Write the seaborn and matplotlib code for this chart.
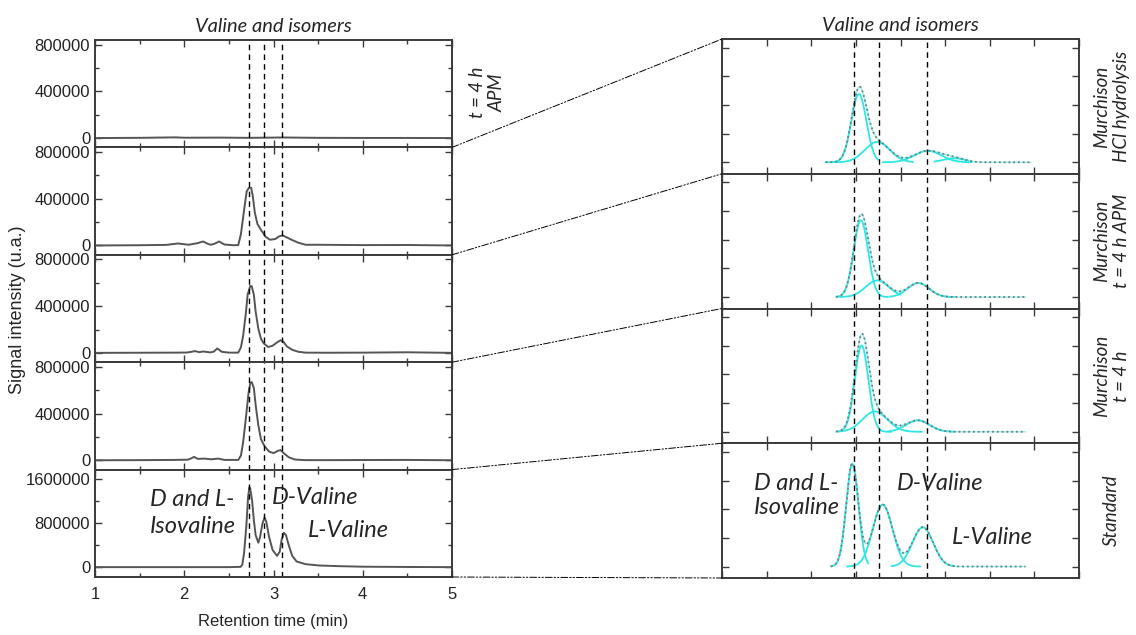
import numpy as np
import matplotlib
matplotlib.use("Agg")
import matplotlib.pyplot as plt
from matplotlib.patches import ConnectionPatch
from matplotlib.ticker import MultipleLocator, NullFormatter
import seaborn as sns

# ---------------- chromatograms (retention time in min, signal in u.a.) ----------------
t_apm = [1.0, 1.5, 1.9, 2.0, 2.4, 2.7, 3.0, 3.1, 3.5, 4.0, 4.5, 5.0]
s_apm = [0, 2000, 6000, 3000, 4000, 2000, 4000, 5000, 2000, 1000, 1000, 0]

t_hcl = [1.0, 1.5, 1.80, 1.93, 2.05, 2.15, 2.21, 2.27, 2.30, 2.34, 2.39, 2.45, 2.55,
         2.605, 2.635, 2.67, 2.70, 2.726, 2.75, 2.77, 2.79, 2.82, 2.86, 2.88, 2.91,
         2.96, 3.02, 3.06, 3.10, 3.15, 3.21, 3.28, 3.36, 3.51, 4.0, 4.5, 5.0]
s_hcl = [0, 2000, 5000, 17000, 6000, 20000, 34000, 12000, 6000, 15000, 34000, 8000, 2000,
         3000, 98000, 300000, 465000, 494000, 494000, 413000, 284000, 184000, 132000, 112000, 75000,
         49000, 55000, 77000, 86000, 69000, 46000, 23000, 6000, 6000, 3000, 4000, 0]

t_m4apm = [1.0, 1.5, 1.9, 2.03, 2.08, 2.12, 2.17, 2.21, 2.29, 2.33, 2.37, 2.42, 2.50,
           2.605, 2.635, 2.66, 2.69, 2.71, 2.74, 2.756, 2.78, 2.80, 2.83, 2.86, 2.89,
           2.94, 2.99, 3.04, 3.08, 3.11, 3.15, 3.21, 3.28, 3.36, 3.6, 4.0, 4.5, 5.0]
s_m4apm = [0, 1000, 2000, 3000, 9000, 15000, 6000, 12000, 4000, 10000, 38000, 9000, 2000,
           2000, 47000, 149000, 338000, 498000, 574000, 571000, 498000, 353000, 207000, 120000, 82000,
           50000, 61000, 90000, 108000, 96000, 55000, 26000, 9000, 2000, 1000, 2000, 5000, 0]

t_m4 = [1.0, 1.5, 1.9, 2.04, 2.08, 2.11, 2.15, 2.23, 2.30, 2.38, 2.45, 2.605, 2.635,
        2.66, 2.69, 2.72, 2.74, 2.756, 2.78, 2.80, 2.83, 2.86, 2.90, 2.95, 3.00,
        3.05, 3.08, 3.11, 3.17, 3.24, 3.36, 3.6, 4.0, 4.5, 5.0]
s_m4 = [0, 1000, 3000, 5000, 17000, 29000, 12000, 14000, 8000, 14000, 3000, 3000, 40000,
        156000, 358000, 575000, 661000, 670000, 618000, 474000, 300000, 179000, 121000, 75000, 61000,
        81000, 87000, 64000, 26000, 6000, 1000, 1000, 2000, 3000, 0]

t_std = [1.0, 1.5, 2.0, 2.5, 2.63, 2.65, 2.67, 2.695, 2.715, 2.73, 2.74, 2.76, 2.78,
         2.80, 2.83, 2.85, 2.876, 2.90, 2.92, 2.95, 2.99, 3.04, 3.07, 3.09, 3.117,
         3.14, 3.17, 3.21, 3.26, 3.36, 3.51, 3.73, 4.0, 4.5, 5.0]
s_std = [0, 0, 0, 0, 5000, 42000, 253000, 735000, 1277000, 1458000, 1428000, 1217000, 855000,
         584000, 446000, 554000, 795000, 904000, 825000, 554000, 313000, 205000, 283000, 494000, 627000,
         584000, 404000, 205000, 102000, 54000, 30000, 18000, 8000, 3000, 0]

peak_marks_left = [2.73, 2.89, 3.10]
left_ylims = [(-80000, 840000)] * 4 + [(-180000, 1780000)]
left_major = [400000] * 4 + [800000]
left_minor = [200000] * 4 + [400000]

# ---------------- Gaussian deconvolution of the peaks ----------------
fit_labels = ["Murchison\nHCl hydrolysis", "Murchison\nt = 4 h APM", "Murchison\nt = 4 h", "Standard"]
fit_centers = [[2.767, 2.870, 3.153, 3.30], [2.778, 2.870, 3.100], [2.782, 2.857, 3.097], [2.730, 2.900, 3.125]]
fit_heights = [[2.38, 0.71, 0.40, 0.14], [2.68, 0.58, 0.49], [3.01, 0.71, 0.40], [3.58, 2.16, 1.37]]
fit_sigmas = [[0.042, 0.070, 0.075, 0.060], [0.040, 0.065, 0.060], [0.038, 0.070, 0.065], [0.034, 0.055, 0.058]]
fit_starts = [[2.58, 2.63, 2.90, 3.19], [2.64, 2.66, 2.94], [2.64, 2.66, 2.93], [2.61, 2.70, 2.95]]
fit_ends = [[2.875, 3.07, 3.40, 3.38], [2.93, 3.00, 3.30], [2.95, 3.12, 3.30], [2.82, 3.11, 3.30]]
fit_span = [(2.58, 3.73), (2.64, 3.70), (2.64, 3.70), (2.61, 3.70)]
peak_marks_right = [2.74, 2.88, 3.15]

# ---------------- figure ----------------
sns.set_theme(style="ticks")
plt.rcParams["font.family"] = ["Liberation Sans", "DejaVu Sans"]
ITAL = dict(family=["Lato", "DejaVu Sans"], style="italic")
EDGE = "#3a3a3a"
CYAN = "#2ee6e6"

W, H = 1136, 635
fig = plt.figure(figsize=(W / 100, H / 100), dpi=100)


def box(x0, top, w, h):
    return [x0 / W, 1 - (top + h) / H, w / W, h / H]


def style_axes(ax):
    for sp in ax.spines.values():
        sp.set_color(EDGE)
        sp.set_linewidth(1.4)
    ax.tick_params(which="both", direction="in", top=True, right=True,
                   color=EDGE, width=1.0, labelsize=12, labelcolor="#222222")
    ax.tick_params(which="major", length=5)
    ax.tick_params(which="minor", length=3)


left_h = 537 / 5
axL = [fig.add_axes(box(95, 40 + i * left_h, 357, left_h)) for i in range(5)]
traces = [(t_apm, s_apm), (t_hcl, s_hcl), (t_m4apm, s_m4apm), (t_m4, s_m4), (t_std, s_std)]

for i, (ax, (t, s)) in enumerate(zip(axL, traces)):
    sns.lineplot(x=t, y=s, ax=ax, color="#555555", linewidth=1.4)
    ax.set_xlim(1, 5)
    ax.set_ylim(*left_ylims[i])
    ax.xaxis.set_major_locator(MultipleLocator(1))
    ax.xaxis.set_minor_locator(MultipleLocator(0.5))
    ax.yaxis.set_major_locator(MultipleLocator(left_major[i]))
    ax.yaxis.set_minor_locator(MultipleLocator(left_minor[i]))
    ax.yaxis.set_major_formatter(matplotlib.ticker.FormatStrFormatter("%d"))
    style_axes(ax)
    for xm in peak_marks_left:
        ax.axvline(xm, color="black", linestyle=(0, (4, 3)), linewidth=1.0)
    if i < 4:
        ax.tick_params(labelbottom=False)

axL[0].set_title("Valine and isomers", fontsize=14.5, pad=6, **ITAL)
axL[0].text(1.1, 0.51, "t = 4 h\nAPM", transform=axL[0].transAxes, rotation=90,
            ha="center", va="center", multialignment="center", fontsize=13.5, **ITAL)
axL[4].set_xlabel("Retention time (min)", fontsize=12, labelpad=9)
axL[4].tick_params(axis="x", pad=7)
axL[4].text(1.62, 990000, "D and L-\nIsovaline", ha="left", va="center", fontsize=17,
            linespacing=1.35, **ITAL)
axL[4].text(2.98, 1270000, "D-Valine", ha="left", va="center", fontsize=17, **ITAL)
axL[4].text(3.39, 670000, "L-Valine", ha="left", va="center", fontsize=17, **ITAL)
fig.text(18 / W, 1 - 310 / H, "Signal intensity (u.a.)", rotation=90, ha="center",
         va="center", fontsize=13)

right_h = 539 / 4
axR = [fig.add_axes(box(722, 39 + i * right_h, 357, right_h)) for i in range(4)]
for i, ax in enumerate(axR):
    lo, hi = fit_span[i]
    xs = np.linspace(lo, hi, 400)
    total = np.zeros_like(xs)
    for c, a, sg, x0, x1 in zip(fit_centers[i], fit_heights[i], fit_sigmas[i],
                                fit_starts[i], fit_ends[i]):
        total += a * np.exp(-0.5 * ((xs - c) / sg) ** 2)
        xc = np.linspace(x0, x1, 200)
        sns.lineplot(x=xc, y=a * np.exp(-0.5 * ((xc - c) / sg) ** 2), ax=ax,
                     color=CYAN, linewidth=1.3)
    # cumulative fit: light cyan underlay with grey dots on top
    sns.lineplot(x=xs, y=total, ax=ax, color=CYAN, linewidth=1.0, alpha=0.55)
    sns.lineplot(x=xs, y=total, ax=ax, color="#7a7a7a", linewidth=1.3, linestyle=":")
    ax.set_xlim(2.0, 4.0)
    ax.set_ylim(-0.4, 4.3)
    ax.xaxis.set_major_locator(MultipleLocator(0.25))
    ax.yaxis.set_major_locator(MultipleLocator(1))
    ax.xaxis.set_major_formatter(NullFormatter())
    ax.yaxis.set_major_formatter(NullFormatter())
    style_axes(ax)
    for xm in peak_marks_right:
        ax.axvline(xm, color="black", linestyle=(0, (4, 3)), linewidth=1.0)
    ax.text(1.09, 0.5, fit_labels[i], transform=ax.transAxes, rotation=90, ha="center",
            va="center", multialignment="center", fontsize=13.5, **ITAL)

axR[0].set_title("Valine and isomers", fontsize=14.5, pad=6, **ITAL)
axR[3].text(2.18, 2.47, "D and L-\nIsovaline", ha="left", va="center", fontsize=17,
            linespacing=1.15, **ITAL)
axR[3].text(2.98, 2.91, "D-Valine", ha="left", va="center", fontsize=17, **ITAL)
axR[3].text(3.29, 1.0, "L-Valine", ha="left", va="center", fontsize=17, **ITAL)

# zoom guides between the chromatograms and the fitted peaks
for i in range(5):
    if i == 0:
        target, yb = axR[0], 1.0
    else:
        target, yb = axR[i - 1], 0.0
    con = ConnectionPatch(xyA=(1, 0), coordsA=axL[i].transAxes, xyB=(0, yb),
                          coordsB=target.transAxes, color="black", linewidth=0.7,
                          linestyle=(0, (7, 2, 1.5, 2, 1.5, 2)))
    fig.add_artist(con)

fig.savefig("out.png", dpi=100)
